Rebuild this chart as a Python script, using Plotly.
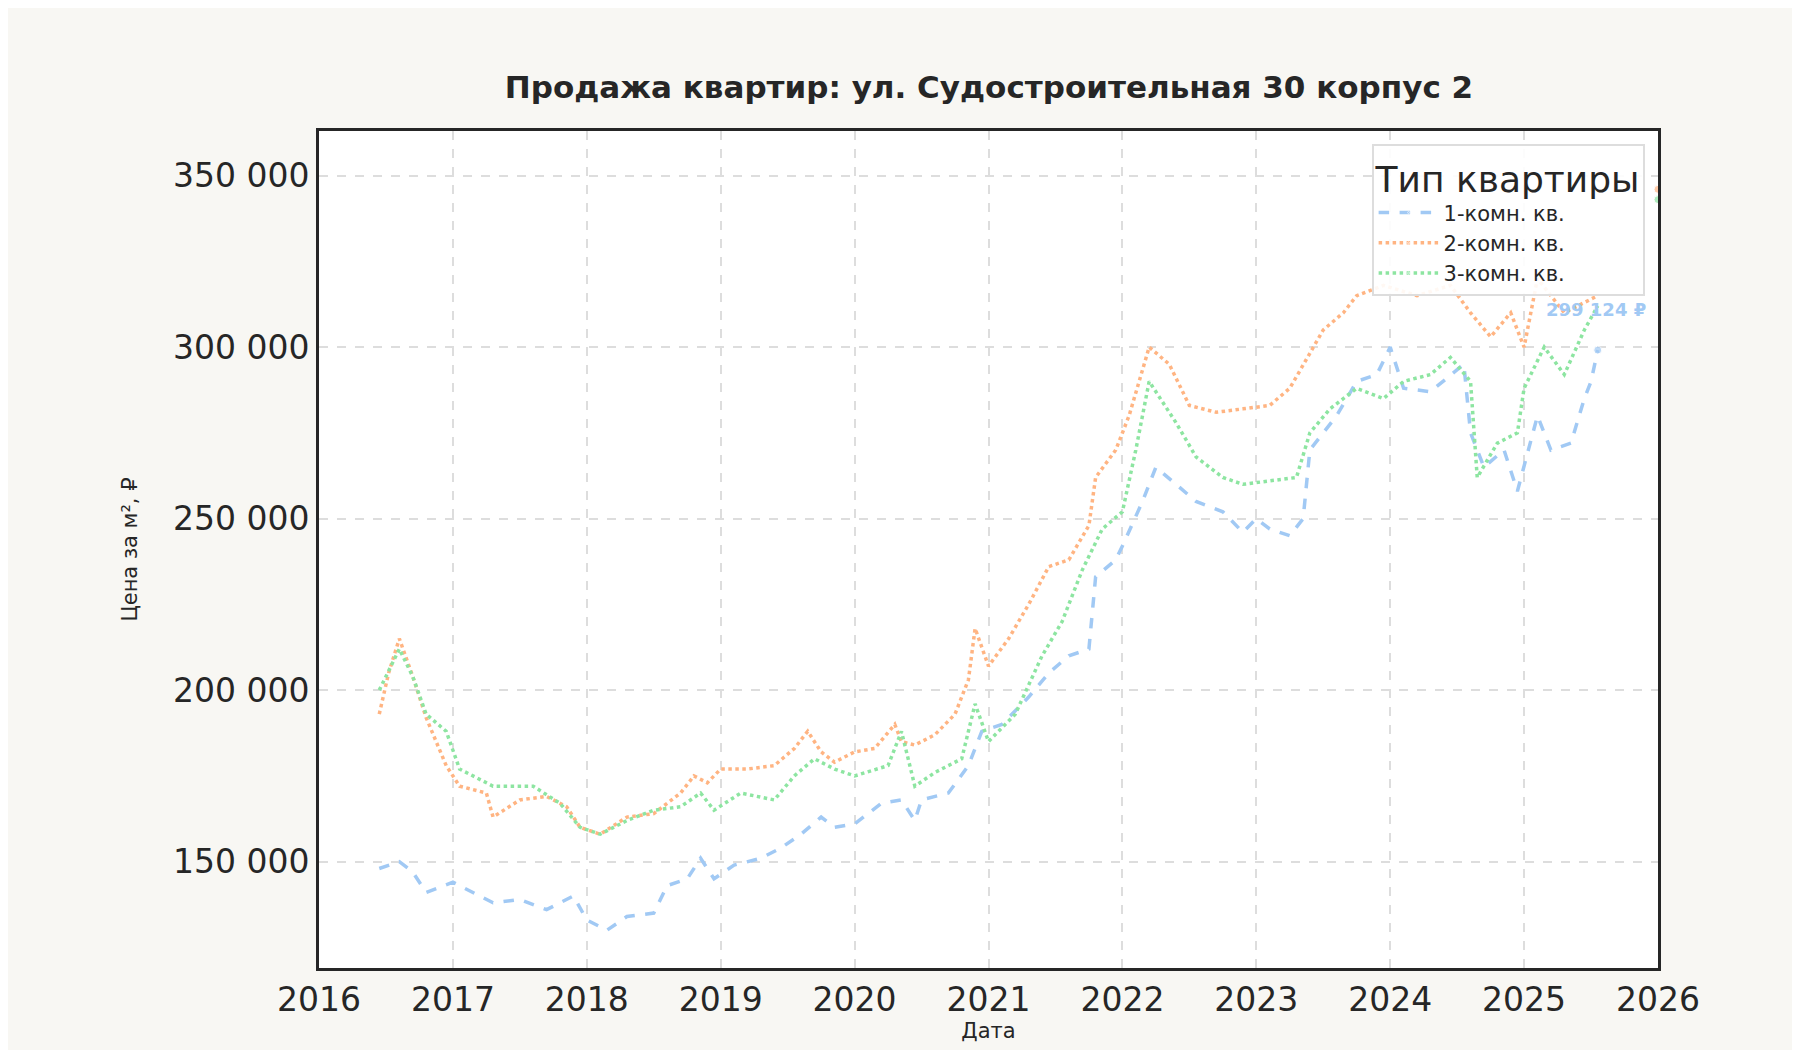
import plotly.graph_objects as go

x1 = [2016.45,2016.6,2016.7,2016.8,2017.0,2017.2,2017.3,2017.5,2017.7,2017.9,2018.0,2018.15,2018.3,2018.5,2018.6,2018.75,2018.85,2018.95,2019.1,2019.3,2019.45,2019.6,2019.75,2019.85,2020.0,2020.2,2020.35,2020.45,2020.5,2020.7,2020.85,2020.95,2021.1,2021.3,2021.45,2021.6,2021.75,2021.8,2021.95,2022.0,2022.15,2022.25,2022.4,2022.55,2022.75,2022.9,2023.0,2023.1,2023.25,2023.35,2023.4,2023.6,2023.75,2023.9,2024.0,2024.1,2024.3,2024.45,2024.55,2024.6,2024.7,2024.85,2024.95,2025.1,2025.2,2025.35,2025.45,2025.5,2025.55]
y1 = [148,150,147,141,144,140,138,139,136,140,133,130,134,135,143,145,151,145,149,151,154,158,163,160,161,167,168,162,168,170,178,188,190,198,205,210,212,233,238,242,255,265,260,255,252,246,250,247,245,250,270,280,290,292,300,288,287,292,295,275,265,270,258,280,270,272,285,290,299.124]
x2 = [2016.45,2016.52,2016.6,2016.7,2016.8,2016.95,2017.05,2017.25,2017.3,2017.5,2017.7,2017.85,2017.95,2018.1,2018.3,2018.5,2018.7,2018.8,2018.9,2019.0,2019.2,2019.4,2019.55,2019.65,2019.75,2019.85,2020.0,2020.15,2020.3,2020.35,2020.45,2020.6,2020.75,2020.85,2020.9,2021.0,2021.15,2021.3,2021.45,2021.6,2021.75,2021.8,2021.95,2022.05,2022.2,2022.35,2022.5,2022.7,2022.9,2023.1,2023.25,2023.35,2023.5,2023.65,2023.75,2023.95,2024.2,2024.45,2024.6,2024.75,2024.9,2025.0,2025.1,2025.3,2025.55,2025.8,2026.0]
y2 = [193,205,215,204,192,178,172,170,163,168,169,166,160,158,163,164,170,175,173,177,177,178,183,188,182,179,182,183,190,185,184,187,193,203,218,207,215,225,236,238,248,262,270,280,300,295,283,281,282,283,288,295,305,310,315,318,315,318,310,303,310,300,320,310,315,None,346]
x3 = [2016.45,2016.6,2016.7,2016.8,2016.95,2017.05,2017.3,2017.6,2017.8,2017.95,2018.1,2018.3,2018.5,2018.7,2018.85,2018.95,2019.15,2019.4,2019.55,2019.7,2019.85,2020.0,2020.25,2020.35,2020.45,2020.6,2020.8,2020.9,2021.0,2021.2,2021.4,2021.55,2021.7,2021.85,2022.0,2022.1,2022.2,2022.4,2022.55,2022.75,2022.9,2023.1,2023.3,2023.4,2023.55,2023.75,2023.95,2024.1,2024.3,2024.45,2024.6,2024.65,2024.8,2024.95,2025.0,2025.15,2025.3,2025.45,2025.55,2025.8,2026.0]
y3 = [200,212,204,193,188,177,172,172,167,160,158,162,165,166,170,165,170,168,175,180,177,175,178,188,172,176,180,196,185,193,210,220,235,247,252,270,290,278,268,262,260,261,262,275,282,288,285,290,292,297,290,262,272,275,288,300,292,305,312,None,343]
names = ["1-комн. кв.", "2-комн. кв.", "3-комн. кв."]
colors = ["#a1c9f4", "#ffb482", "#8de5a1"]
years = list(range(2016, 2027))
yticks = [150000, 200000, 250000, 300000, 350000]

fig = go.Figure()
for xs, ys, nm, c, d in [(x1, y1, names[0], colors[0], "dash"), (x2, y2, names[1], colors[1], "dot"), (x3, y3, names[2], colors[2], "dot")]:
    fig.add_trace(go.Scatter(x=xs, y=[None if v is None else v * 1000 for v in ys], name=nm, mode="lines+markers",
                             marker=dict(size=[0] * (len(xs) - 1) + [8], color=c),
                             line=dict(color=c, width=3.5, dash=d), connectgaps=False))
fig.add_annotation(x=2025.15, y=311000, text="<b>299 124 ₽</b>", showarrow=False,
                   xanchor="left", font=dict(color=colors[0], size=18, family="DejaVu Sans"))
fig.update_layout(
    width=1800, height=1050, paper_bgcolor="#f8f7f3", plot_bgcolor="white",
    font=dict(family="DejaVu Sans", color="#262626"),
    margin=dict(l=311, r=150, t=123, b=90),
    title=dict(text="<b>Продажа квартир: ул. Судостроительная 30 корпус 2</b>", x=0.545, xanchor="center",
               y=0.935, font=dict(size=31)),
    xaxis=dict(range=[2016, 2026], tickvals=years, ticktext=[str(y) for y in years], tickfont=dict(size=33),
               showgrid=True, gridcolor="#dddddd", griddash="dash", gridwidth=2, zeroline=False,
               showline=True, linecolor="#262626", linewidth=3, mirror=True,
               title=dict(text="Дата", font=dict(size=21), standoff=5)),
    yaxis=dict(range=[119000, 363000], tickvals=yticks, ticktext=["150 000", "200 000", "250 000", "300 000", "350 000"],
               tickfont=dict(size=33), showgrid=True, gridcolor="#dddddd", griddash="dash", gridwidth=2, zeroline=False,
               showline=True, linecolor="#262626", linewidth=3, mirror=True,
               title=dict(text="Цена за м², ₽", font=dict(size=21), standoff=30)),
    legend=dict(x=0.99, y=0.985, xanchor="right", yanchor="top", bgcolor="rgba(255,255,255,0.9)",
                bordercolor="#dddddd", borderwidth=2, font=dict(size=21), itemwidth=60, tracegroupgap=8,
                title=dict(text="Тип квартиры", font=dict(size=36))),
)
fig.write_html("out.html")
